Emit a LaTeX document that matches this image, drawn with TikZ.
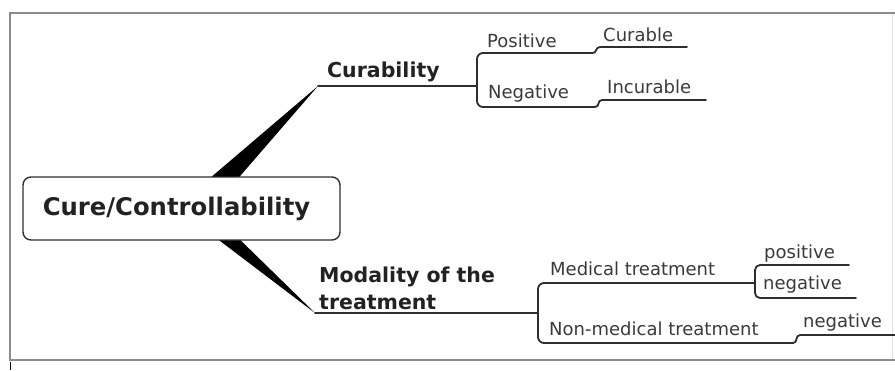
\documentclass[tikz,border=0pt]{standalone}
\usepackage{fontspec}
\setmainfont{DejaVu Sans}
\definecolor{linec}{HTML}{2E2E2E}
\definecolor{txtc}{HTML}{3A3A3A}
\definecolor{boldc}{HTML}{222222}
\definecolor{framec}{HTML}{8C8C8C}
\tikzset{
  conn/.style={draw=linec, line width=1.8pt, line cap=round},
  lbl/.style={font=\fontsize{18}{21}\selectfont, text=txtc, inner sep=0pt, anchor=base west},
  blbl/.style={font=\bfseries\fontsize{20.5}{27}\selectfont, text=boldc, inner sep=0pt, anchor=base west, align=left},
  rootbox/.style={draw=linec, line width=1.4pt, rounded corners=8pt, fill=white,
    minimum width=317pt, minimum height=63pt, inner sep=0pt,
    font=\bfseries\fontsize{24.3}{29}\selectfont, text=boldc},
  wedgefill/.style={fill=black},
}
\begin{document}
\begin{tikzpicture}[x=1pt,y=-1pt]
\useasboundingbox (0,0) rectangle (895,370);
% frame
\draw[framec, line width=2pt] (895,13) -- (10,13) -- (10,360) -- (895,360);
\draw[black!12, line width=1pt] (892,14) -- (892,359);
\draw[black, line width=1pt] (10,362) -- (10,370);

% junction coordinates
\coordinate (curtip) at (318,86);
\coordinate (curj) at (477,86);
\coordinate (modtip) at (315,313);
\coordinate (modj) at (538,313);
\coordinate (medj) at (755,283);

% wedges (behind root)
\fill[wedgefill] (196,190) -- (228,190) -- (curtip) -- cycle;
\fill[wedgefill] (203,228) -- (228,228) -- (modtip) -- cycle;

% root
\node[rootbox] (root) at (181.5,208.5) {Cure/Controllability\hspace*{10pt}};

% level 1
\draw[conn] (curtip) -- (curj);
\node[blbl] (curab) at (327,77) {Curability};
\draw[conn] (modtip) -- (modj);
\node[blbl] (modal) at (319,309) {Modality of the\\[-0.5pt]treatment};

% Curability subtree
\coordinate (posend) at (592,53);
\coordinate (negend) at (595,107);
\coordinate (curbl) at (600,47);
\coordinate (curbr) at (687,47);
\coordinate (incl) at (602,100);
\coordinate (incr) at (706,100);
\draw[conn, rounded corners=6pt] (posend) -- (477,53) -- (477,107) -- (negend);
\draw[conn] (posend) .. controls (597,54) and (595,47) .. (curbl) -- (curbr);
\draw[conn] (negend) .. controls (600,107) and (597,100) .. (incl) -- (incr);
\node[lbl] (pos) at (487,47) {Positive};
\node[lbl] (neg) at (488,98) {Negative};
\node[lbl] (cura) at (603,41) {Curable};
\node[lbl] (incu) at (607,93) {Incurable};

% Modality subtree
\coordinate (nmend) at (793,343);
\coordinate (nnl) at (800,335);
\coordinate (nnr) at (895,335);
\draw[conn, rounded corners=6pt] (medj) -- (538,283) -- (538,343) -- (nmend);
\draw[conn] (nmend) .. controls (798,343) and (795,335) .. (nnl) -- (nnr);
\draw[conn, rounded corners=5pt] (849,265) -- (755,265) -- (755,298) -- (856,298);
\node[lbl] (med) at (550,275) {Medical treatment};
\node[lbl] (nonmed) at (549,335) {Non-medical treatment};
\node[lbl] (mpos) at (764,258) {positive};
\node[lbl] (mneg) at (763,289) {negative};
\node[lbl] (nneg) at (803,327) {negative};
\end{tikzpicture}
\end{document}
